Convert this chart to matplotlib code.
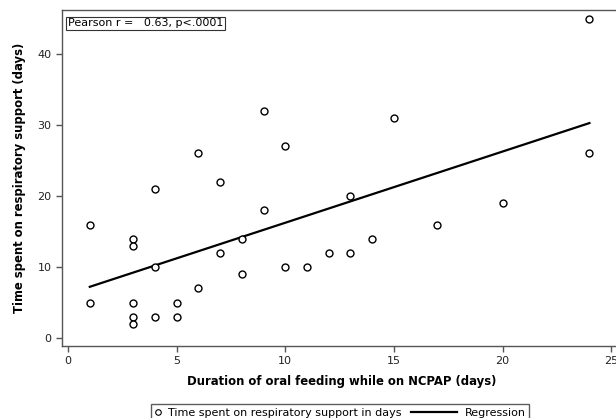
import matplotlib
matplotlib.use("Agg")
from matplotlib import pyplot as plt
from matplotlib.lines import Line2D
from matplotlib.legend_handler import HandlerLine2D
import numpy as np

plt.rcParams['font.family'] = ['DejaVu Sans']

oral_feeding_days = [1, 1, 3, 3, 3, 3, 3, 4, 4, 4, 5, 5, 6, 6, 7, 7, 8, 8,
                     9, 9, 10, 10, 11, 12, 13, 13, 14, 15, 17, 20, 24, 24]
resp_support_days = [16, 5, 14, 13, 5, 3, 2, 21, 10, 3, 5, 3, 26, 7, 22, 12, 14, 9,
                     32, 18, 27, 10, 10, 12, 20, 12, 14, 31, 16, 19, 45, 26]

x = np.array(oral_feeding_days)
y = np.array(resp_support_days)
slope, intercept = np.polyfit(x, y, 1)
xl = np.array([x.min(), x.max()])


# regression handle drawn longer than the (short) shared handle box, extending left
class LongLineHandler(HandlerLine2D):
    def create_artists(self, legend, orig_handle, xdescent, ydescent,
                       width, height, fontsize, trans):
        arts = super().create_artists(legend, orig_handle, xdescent, ydescent,
                                      width, height, fontsize, trans)
        ymid = (height - ydescent) / 2
        arts[0].set_data([width - 4.15 * fontsize, width], [ymid, ymid])
        return arts


fig = plt.figure(figsize=(6.16, 4.18), dpi=100)
ax = fig.add_axes([62/616, 72/418, 560/616, 336/418])

ax.plot(x, y, 'o', markerfacecolor='white', markeredgecolor='black',
        markersize=5, markeredgewidth=1, linestyle='none', zorder=3)
ax.plot(xl, intercept + slope * xl, color='black', linewidth=1.6, zorder=2)

ax.set_xlim(-0.28, 25.5)
ax.set_ylim(-1.1, 46.2)
ax.set_xticks([0, 5, 10, 15, 20, 25])
ax.set_yticks([0, 10, 20, 30, 40])
for s in ax.spines.values():
    s.set_color('#555555')
    s.set_linewidth(1)
ax.tick_params(direction='out', length=4, width=1, color='#555555',
               labelsize=8, labelcolor='#222222')

ax.set_xlabel("Duration of oral feeding while on NCPAP (days)",
              fontsize=8.4, fontweight='bold', labelpad=6)
ax.set_ylabel("Time spent on respiratory support (days)",
              fontsize=8.4, fontweight='bold', labelpad=8)

ax.text(0.01, 0.975, "Pearson r =   0.63, p<.0001", transform=ax.transAxes,
        fontsize=8, va='top', ha='left',
        bbox=dict(boxstyle='square,pad=0.15', facecolor='white',
                  edgecolor='#333333', linewidth=0.8))

scatter_h = Line2D([], [], marker='o', linestyle='none', markerfacecolor='white',
                   markeredgecolor='black', markersize=4, markeredgewidth=0.8)
line_h = Line2D([], [], color='black', linewidth=1.6)
fig.legend([scatter_h, line_h],
           ["Time spent on respiratory support in days", "Regression"],
           handler_map={line_h: LongLineHandler()},
           loc='lower center', bbox_to_anchor=(340/616, -0.015), ncol=2,
           fontsize=8, frameon=True, fancybox=False, edgecolor='#333333',
           handlelength=0.6, columnspacing=4.4, handletextpad=0.65,
           borderpad=0.3, borderaxespad=0.3)

plt.savefig('out.png', dpi=100)
plt.close()
